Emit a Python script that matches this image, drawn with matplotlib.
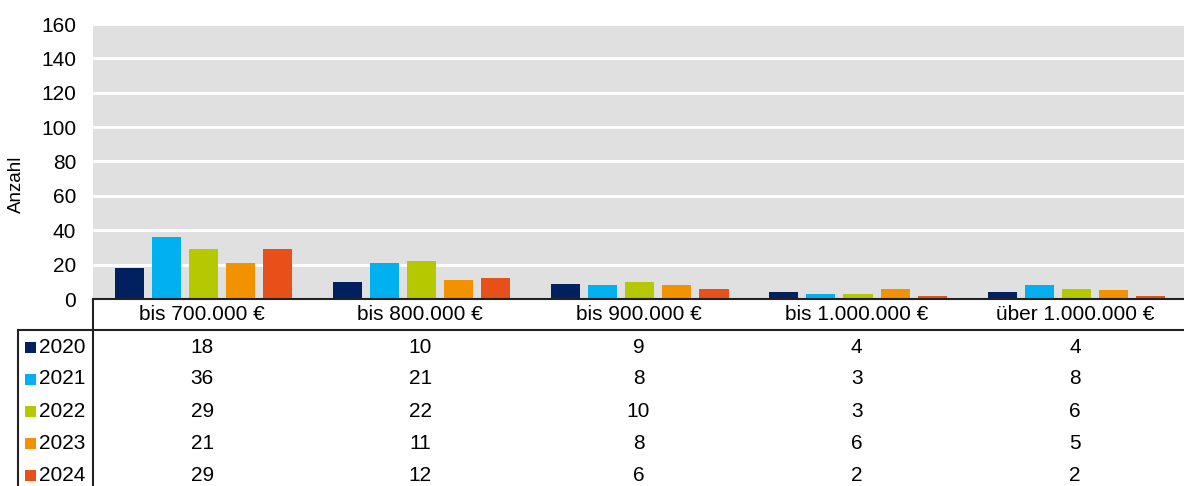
import matplotlib
matplotlib.use('Agg')
import matplotlib.pyplot as plt
import numpy as np
from matplotlib.lines import Line2D
from matplotlib.patches import Rectangle
from matplotlib.transforms import blended_transform_factory

plt.rcParams['font.family'] = ['Liberation Sans', 'DejaVu Sans']

# data
categories = ['bis 700.000 €', 'bis 800.000 €', 'bis 900.000 €',
              'bis 1.000.000 €', 'über 1.000.000 €']
years = ['2020', '2021', '2022', '2023', '2024']
v2020 = [18, 10, 9, 4, 4]
v2021 = [36, 21, 8, 3, 8]
v2022 = [29, 22, 10, 3, 6]
v2023 = [21, 11, 8, 6, 5]
v2024 = [29, 12, 6, 2, 2]
series = [v2020, v2021, v2022, v2023, v2024]
colors = ['#002060', '#00B0F0', '#B5C800', '#F39200', '#E8501A']
yticks = [0, 20, 40, 60, 80, 100, 120, 140, 160]

W, H = 1184, 486
fig = plt.figure(figsize=(W / 100, H / 100), dpi=100)


def fx(px):
    return px / W


def fy(py):
    return 1 - py / H


ax = fig.add_axes([fx(93), fy(299), fx(1184 - 93), (299 - 24) / H])
ax.set_facecolor('#E0E0E0')

x = np.arange(len(categories))
step = 0.17
width = 0.133
for i, vals in enumerate(series):
    ax.bar(x + (i - 2) * step + 0.006, vals, width=width, color=colors[i],
           linewidth=0, zorder=3)

ax.set_xlim(-0.5, len(categories) - 0.5)
ax.set_ylim(0, 160)
ax.set_yticks(yticks)
ax.set_yticklabels([str(t) for t in yticks], fontsize=15)
ax.set_xticks([])
ax.tick_params(axis='y', length=0, pad=12)
ax.yaxis.grid(True, color='white', linewidth=2, zorder=1)
ax.set_axisbelow(True)
for s in ['top', 'right', 'left']:
    ax.spines[s].set_visible(False)
ax.spines['bottom'].set_color('#222222')
ax.spines['bottom'].set_linewidth(1.5)
ax.spines['bottom'].set_zorder(5)

fig.text(fx(16), fy(184), 'Anzahl', rotation=90, fontsize=13.5,
         ha='center', va='center')

# data table below the plot
lc = '#222222'
fig.add_artist(Line2D([fx(18), 1], [fy(330), fy(330)], color=lc, lw=1.5))
fig.add_artist(Line2D([fx(93), fx(93)], [fy(299), 0], color=lc, lw=1.5))
fig.add_artist(Line2D([fx(18), fx(18)], [fy(330), 0], color=lc, lw=1.5))

tr = blended_transform_factory(ax.transData, fig.transFigure)
for j, cat in enumerate(categories):
    ax.text(j, fy(315), cat, transform=tr, ha='center', va='center',
            fontsize=15, clip_on=False)

for i, vals in enumerate(series):
    yc = 347 + 32 * i
    fig.add_artist(Rectangle((fx(25), fy(yc + 5.5)), fx(11), 11 / H,
                             facecolor=colors[i], edgecolor='none'))
    fig.text(fx(39), fy(yc), years[i], ha='left', va='center', fontsize=15)
    for j, v in enumerate(vals):
        ax.text(j, fy(yc), str(v), transform=tr, ha='center', va='center',
                fontsize=15, clip_on=False)

fig.savefig('out.png', dpi=100)
